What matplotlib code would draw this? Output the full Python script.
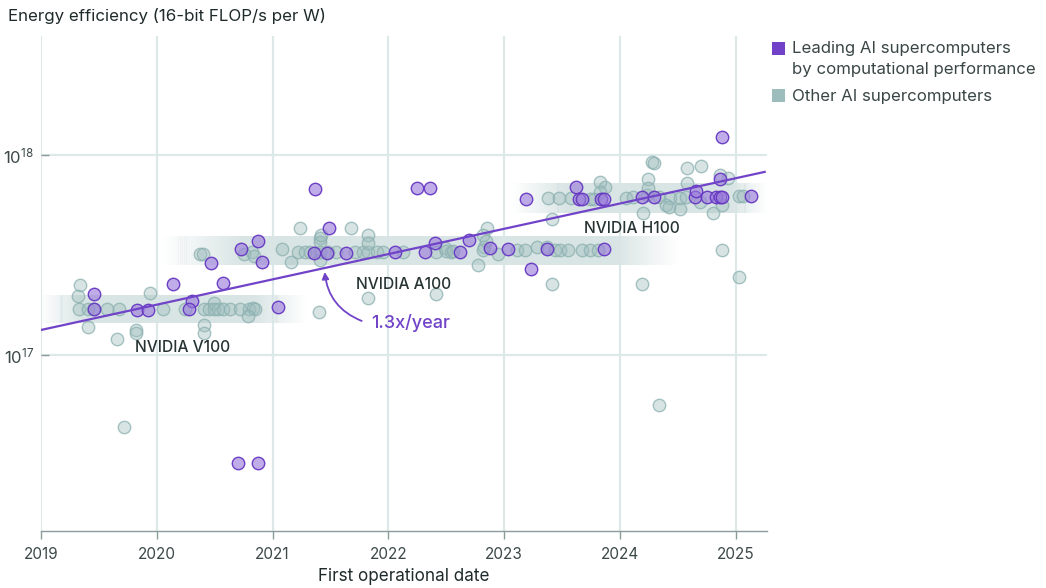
import numpy as np
import matplotlib
matplotlib.use("Agg")
import matplotlib.pyplot as plt
from matplotlib.patches import Rectangle

plt.rcParams['font.family'] = ['Inter', 'DejaVu Sans']

# ---------------- data (values in FLOP/s per W, units of 1e17) ----------------
other_years = [
    2019.34, 2019.32, 2019.33, 2019.41, 2019.45, 2019.57, 2019.67, 2019.41, 2019.66, 2019.82,
    2019.82, 2019.94, 2020.05, 2020.24, 2020.41, 2020.45, 2020.49, 2020.49, 2020.53, 2020.57,
    2020.63, 2020.72, 2020.80, 2020.83, 2020.85, 2020.79, 2020.41, 2020.41, 2021.40, 2019.72,
    2020.37, 2020.40, 2020.75, 2020.82, 2020.84, 2021.08, 2021.16, 2021.24, 2021.68, 2021.41,
    2021.41, 2021.42, 2021.41, 2021.22, 2021.28, 2021.32, 2021.41, 2021.48, 2021.55, 2021.71,
    2021.78, 2021.82, 2021.90, 2021.95, 2021.82, 2021.82, 2021.82, 2022.13, 2022.41, 2022.49,
    2022.54, 2022.41, 2022.77, 2022.85, 2022.82, 2022.83, 2022.84, 2022.50, 2022.56, 2022.82,
    2022.95, 2023.11, 2023.18, 2023.28, 2023.37, 2023.44, 2023.48, 2023.55, 2023.67, 2023.74,
    2023.81, 2023.41, 2023.41,
    2023.38, 2023.47, 2023.58, 2023.74, 2023.78, 2023.83, 2023.87, 2023.83, 2024.19, 2024.28,
    2024.29, 2024.58, 2024.24, 2024.58, 2024.70, 2024.86, 2024.93, 2024.05, 2024.11, 2024.23,
    2024.34, 2024.43, 2024.52, 2024.57, 2024.40, 2024.52, 2024.42, 2024.20, 2024.69, 2024.80,
    2024.88, 2025.03, 2025.06, 2024.88, 2025.03, 2024.34, 2024.24,
]
other_values = [
    2.24, 1.97, 1.69, 1.69, 1.69, 1.69, 1.69, 1.385, 1.198, 1.334,
    1.284, 2.035, 1.698, 1.698, 1.698, 1.698, 1.813, 1.698, 1.698, 1.698,
    1.698, 1.698, 1.698, 1.724, 1.698, 1.572, 1.413, 1.293, 1.635, 0.4365,
    3.199, 3.199, 3.199, 3.285, 3.137, 3.388, 2.928, 4.299, 4.299, 3.832,
    3.685, 3.981, 2.985, 3.262, 3.262, 3.262, 3.262, 3.262, 3.262, 3.262,
    3.262, 3.262, 3.262, 3.262, 3.981, 3.618, 1.92, 3.262, 3.262, 3.415,
    3.262, 2.012, 2.818, 4.299, 3.981, 3.479, 3.70, 3.30, 3.30, 3.35,
    3.20, 3.35, 3.35, 3.45, 3.45, 3.35, 3.35, 3.35, 3.35, 3.35,
    3.35, 2.257, 4.80,
    6.075, 6.075, 6.075, 6.03, 6.03, 7.355, 6.94, 6.554, 2.257, 9.26,
    9.09, 8.64, 7.56, 7.27, 8.84, 7.94, 7.65, 6.10, 6.19, 6.31,
    6.19, 6.075, 6.075, 6.19, 5.62, 5.35, 5.515, 5.11, 5.84, 5.11,
    5.62, 6.24, 6.24, 3.35, 2.446, 0.562, 6.80,
]

leading_years = [
    2019.46, 2019.46, 2019.83, 2019.92, 2020.14, 2020.30, 2020.28, 2020.57, 2021.05, 2020.70,
    2020.87,
    2020.47, 2020.73, 2020.87, 2020.91, 2021.36, 2021.47, 2021.63, 2021.49, 2021.37, 2022.25,
    2022.36, 2022.06, 2022.32, 2022.40, 2022.62, 2022.70, 2022.88, 2023.03, 2023.37, 2023.86,
    2023.23,
    2023.19, 2023.62, 2023.65, 2023.67, 2023.84, 2023.86, 2024.19, 2024.29, 2024.65, 2024.66,
    2024.75, 2024.83, 2024.86, 2024.88, 2024.86, 2024.88, 2025.13,
]
leading_values = [
    2.012, 1.69, 1.68, 1.68, 2.257, 1.862, 1.698, 2.283, 1.732, 0.288,
    0.288,
    2.894, 3.388, 3.715, 2.928, 3.247, 3.247, 3.247, 4.299, 6.76, 6.84,
    6.84, 3.262, 3.262, 3.618, 3.262, 3.758, 3.415, 3.377, 3.377, 3.377,
    2.692,
    6.026, 6.94, 6.026, 6.026, 6.026, 6.026, 6.19, 6.19, 6.19, 6.607,
    6.145, 6.145, 6.145, 6.145, 7.59, 12.35, 6.237,
]

# trend: value at 2019 and yearly growth factor
trend_start_year = 2019.0
trend_end_year = 2025.25
trend_start_value = 1.334  # x1e17
trend_growth = 1.338       # per year

# GPU bands
gpu_names = ["NVIDIA V100", "NVIDIA A100", "NVIDIA H100"]
band_x0 = [2019.00, 2020.05, 2023.08]
band_in = [2019.36, 2020.75, 2023.55]
band_out = [2020.83, 2023.95, 2024.95]
band_x1 = [2021.29, 2024.50, 2025.27]
band_lo = [1.445, 2.82, 5.13]
band_hi = [2.00, 3.94, 7.24]
label_x = [2020.22, 2022.13, 2024.10]
label_y = [1.096, 2.264, 4.315]

# growth annotation
growth_label = '1.3x/year'
growth_label_pos = (2022.19, 1.445)
arrow_start = (2021.77, 1.48)
arrow_tip = (2021.45, 2.6)

year_ticks = [2019, 2020, 2021, 2022, 2023, 2024, 2025]

# ---------------- figure ----------------
W, H = 1046, 588
fig = plt.figure(figsize=(W / 100, H / 100), dpi=100)
ax = fig.add_axes([41 / W, 1 - 530.5 / H, (767 - 41) / W, (530.5 - 36) / H])
ax.set_yscale('log')
ax.set_xlim(2019, 2025.27)
ax.set_ylim(10 ** 16.1225, 10 ** 18.595)

grid_c = '#dde8e8'
axis_c = '#8c9b9b'
text_c = '#273333'
purple = '#7143c9'

for yr in year_ticks:
    ax.axvline(yr, color=grid_c, lw=1.6, zorder=0)
for v in [1e17, 1e18]:
    ax.axhline(v, color=grid_c, lw=1.6, zorder=0)

# bands with horizontal fade
band_rgb = (0.85, 0.895, 0.895)
for i in range(len(gpu_names)):
    xs = np.linspace(band_x0[i], band_x1[i], 260)
    for a, b in zip(xs[:-1], xs[1:]):
        m = 0.5 * (a + b)
        if m < band_in[i]:
            al = (m - band_x0[i]) / (band_in[i] - band_x0[i])
        elif m > band_out[i]:
            al = (band_x1[i] - m) / (band_x1[i] - band_out[i])
        else:
            al = 1.0
        al = max(0.0, min(1.0, al))
        ax.fill_between([a, b + 0.0005], band_lo[i] * 1e17, band_hi[i] * 1e17,
                        color=band_rgb, alpha=al, lw=0, antialiased=False, zorder=1)

# points
ax.scatter(other_years, np.array(other_values) * 1e17, s=80,
           facecolor=(0.62, 0.74, 0.74, 0.40), edgecolor=(0.55, 0.69, 0.69, 0.75),
           linewidths=1.0, zorder=3)
ax.scatter(leading_years, np.array(leading_values) * 1e17, s=80,
           facecolor=(0.60, 0.48, 0.86, 0.62), edgecolor=(0.40, 0.22, 0.76, 0.95),
           linewidths=1.0, zorder=4)

# trend line
tx = np.array([trend_start_year, trend_end_year])
ty = trend_start_value * 1e17 * trend_growth ** (tx - trend_start_year)
ax.plot(tx, ty, color=purple, lw=1.6, zorder=5)

# labels
for i in range(len(gpu_names)):
    ax.text(label_x[i], label_y[i] * 1e17, gpu_names[i], ha='center', va='center',
            fontsize=11.2, color=text_c, fontweight='medium', zorder=6)

ax.text(growth_label_pos[0], growth_label_pos[1] * 1e17, growth_label, ha='center',
        va='center', fontsize=13, color=purple, fontweight='medium', zorder=6)
ax.annotate('', xy=(arrow_tip[0], arrow_tip[1] * 1e17),
            xytext=(arrow_start[0], arrow_start[1] * 1e17), zorder=6,
            arrowprops=dict(arrowstyle='-|>', color=purple, lw=1.3,
                            connectionstyle='arc3,rad=-0.3',
                            shrinkA=0, shrinkB=0, mutation_scale=10))

# axes styling
for s in ['left', 'top', 'right']:
    ax.spines[s].set_visible(False)
ax.spines['bottom'].set_color(axis_c)
ax.spines['bottom'].set_linewidth(1.0)
ax.set_xticks(year_ticks)
ax.set_xticklabels([str(y) for y in year_ticks])
ax.tick_params(axis='x', direction='out', length=6, width=1, color=axis_c,
               labelsize=11, labelcolor='#3c4848', pad=6)
ax.set_yticks([1e17, 1e18])
ax.yaxis.set_minor_locator(matplotlib.ticker.NullLocator())
ax.tick_params(axis='y', direction='in', length=6, width=1, color=axis_c,
               labelsize=12, labelcolor='#3c4848', pad=5)
ax.set_xlabel('First operational date', fontsize=12.3, color='#1f2a2a', labelpad=4)

fig.text(8 / W, 1 - 16 / H, 'Energy efficiency (16-bit FLOP/s per W)', fontsize=12.2,
         color='#1f2a2a', ha='left', va='center')

# legend
fig.add_artist(Rectangle((772 / W, 1 - 54.5 / H), 13 / W, 12.5 / H,
                         transform=fig.transFigure, color='#7142c8', lw=0))
fig.text(792 / W, 1 - 48 / H, 'Leading AI supercomputers', fontsize=12.1, color='#3a4646',
         ha='left', va='center')
fig.text(792 / W, 1 - 69.5 / H, 'by computational performance', fontsize=12.1,
         color='#3a4646', ha='left', va='center')
fig.add_artist(Rectangle((772 / W, 1 - 101.5 / H), 13 / W, 12.5 / H,
                         transform=fig.transFigure, color='#9dbdbd', lw=0))
fig.text(792 / W, 1 - 97 / H, 'Other AI supercomputers', fontsize=12.1, color='#3a4646',
         ha='left', va='center')

fig.savefig('out.png', dpi=100)
